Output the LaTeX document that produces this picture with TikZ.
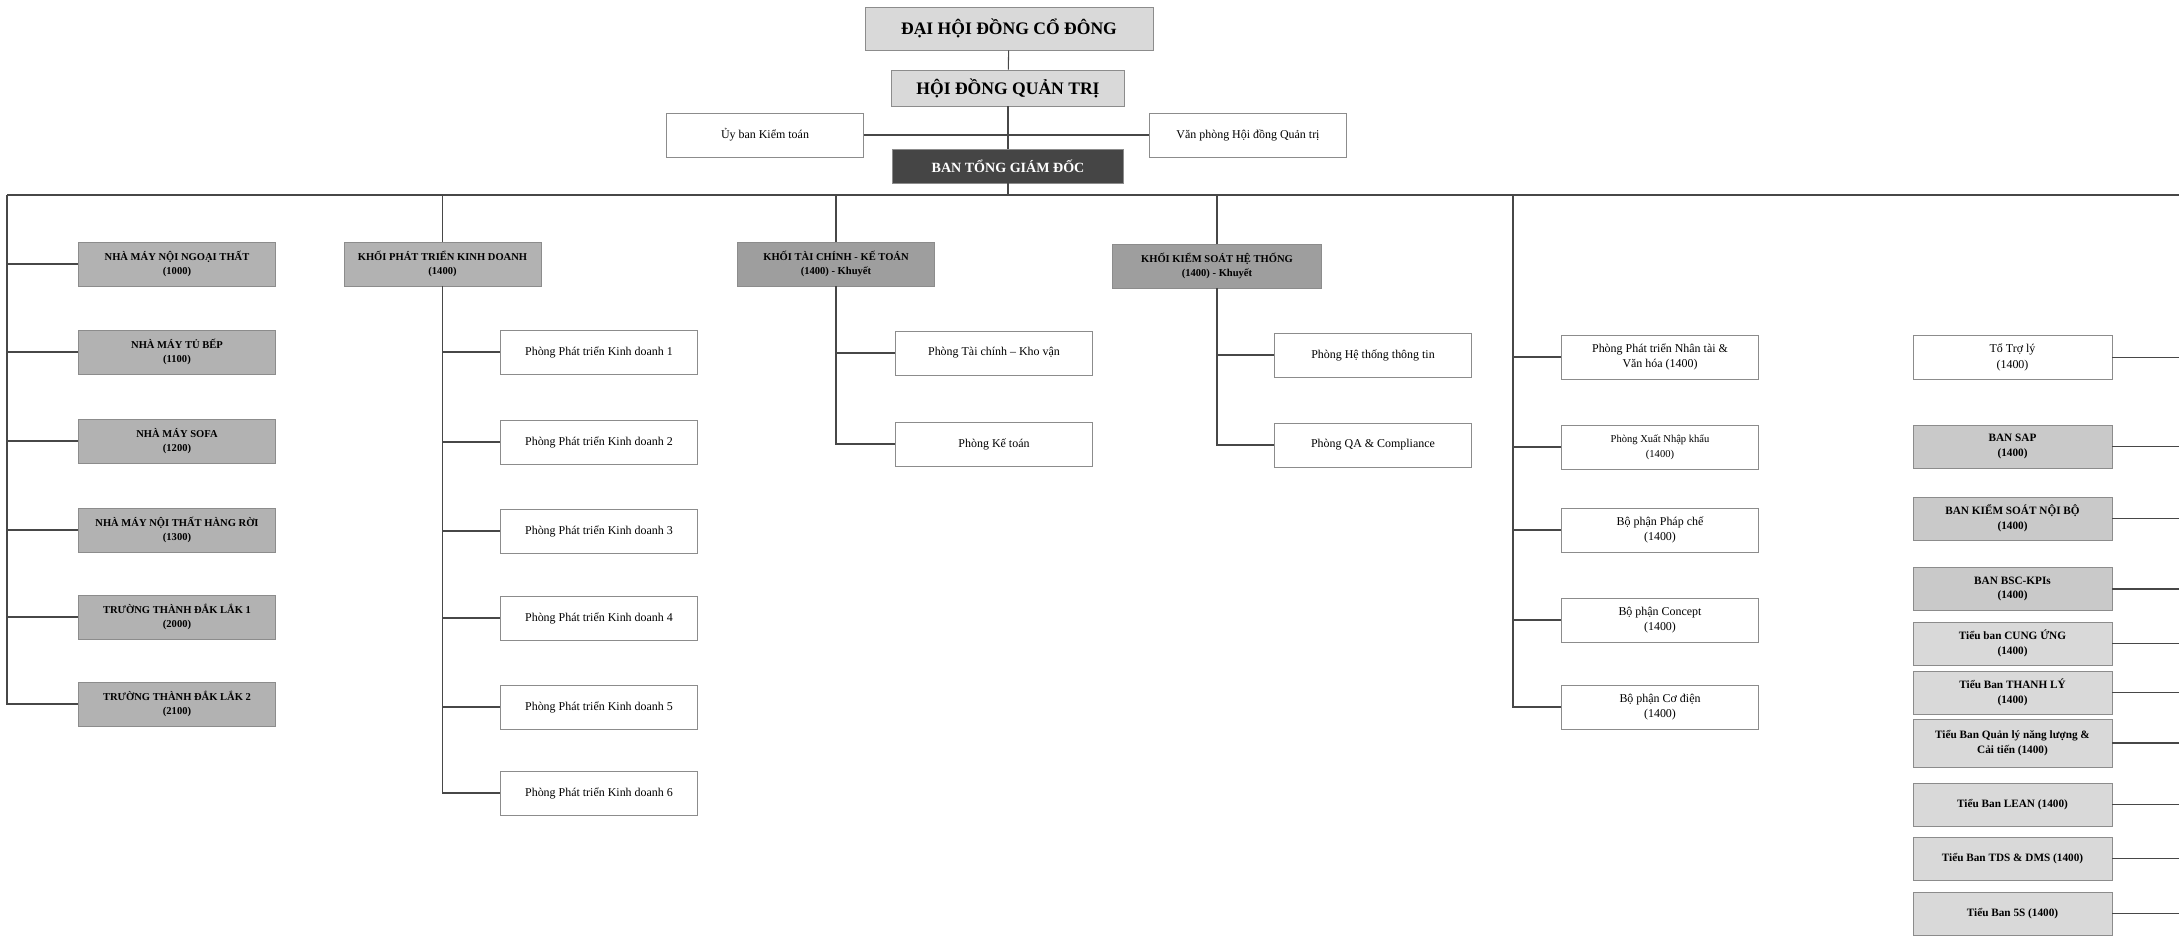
\documentclass[tikz,border=0pt]{standalone}
\usepackage{fontspec}
\setmainfont{Liberation Serif}
\usepackage{tikz}

\tikzset{
	box/.style={draw=black!45, line width=0.5pt, align=center, inner sep=1pt,
		minimum width=4.93cm, minimum height=1.1cm, font=\fontsize{8.5}{11}\selectfont},
	plainbox/.style={box, fill=white},
	factbox/.style={box, fill=black!30, font=\bfseries\fontsize{7.5}{10.5}\selectfont},
	khoibox/.style={box, fill=black!38, font=\bfseries\fontsize{7.5}{10.5}\selectfont},
	banbox/.style={box, fill=black!21, minimum width=4.98cm, minimum height=1.08cm, font=\bfseries\fontsize{8}{10.5}\selectfont},
	tieubox/.style={banbox, fill=black!15},
	topbox/.style={box, fill=black!15, font=\bfseries\fontsize{12.5}{15}\selectfont},
	tgdbox/.style={box, fill=black!73, text=white, minimum width=5.78cm, minimum height=0.85cm, font=\bfseries\fontsize{10}{12}\selectfont},
	link/.style={draw=black!72, line width=0.75pt},
}

\begin{document}
\begin{tikzpicture}[x=0.025cm, y=-0.025cm]
	\useasboundingbox (0,0) rectangle (2179,935);

	% dai hoi, hdqt, ban tong giam doc
	\node[topbox, minimum width=7.2cm, minimum height=1.075cm] (dhd) at (1009,28.5) {ĐẠI HỘI ĐỒNG CỔ ĐÔNG};
	\node[topbox, minimum width=5.83cm, minimum height=0.9cm] (hdqt) at (1008,88) {HỘI ĐỒNG QUẢN TRỊ};
	\node[plainbox] (ubkt) at (765,135) {Ủy ban Kiểm toán};
	\node[plainbox] (vphd) at (1248,135) {Văn phòng Hội đồng Quản trị};
	\node[tgdbox] (btgd) at (1008,166) {BAN TỔNG GIÁM ĐỐC};
	\coordinate (busL) at (7,195);
	\coordinate (busR) at (2179,195);
	\coordinate (bus5) at (1513,195);

	% nha may
	\node[factbox] (nm1) at (177,264) {NHÀ MÁY NỘI NGOẠI THẤT\\(1000)};
	\node[factbox] (nm2) at (177,352) {NHÀ MÁY TỦ BẾP\\(1100)};
	\node[factbox] (nm3) at (177,441) {NHÀ MÁY SOFA\\(1200)};
	\node[factbox] (nm4) at (177,530) {NHÀ MÁY NỘI THẤT HÀNG RỜI\\(1300)};
	\node[factbox] (nm5) at (177,617) {TRƯỜNG THÀNH ĐẮK LẮK 1\\(2000)};
	\node[factbox] (nm6) at (177,704) {TRƯỜNG THÀNH ĐẮK LẮK 2\\(2100)};

	% khoi phat trien kinh doanh
	\node[factbox] (kpt) at (442.5,264) {KHỐI PHÁT TRIỂN KINH DOANH\\(1400)};
	\node[plainbox] (pkd1) at (599,352) {Phòng Phát triển Kinh doanh 1};
	\node[plainbox] (pkd2) at (599,442) {Phòng Phát triển Kinh doanh 2};
	\node[plainbox] (pkd3) at (599,531) {Phòng Phát triển Kinh doanh 3};
	\node[plainbox] (pkd4) at (599,618) {Phòng Phát triển Kinh doanh 4};
	\node[plainbox] (pkd5) at (599,707) {Phòng Phát triển Kinh doanh 5};
	\node[plainbox] (pkd6) at (599,793) {Phòng Phát triển Kinh doanh 6};

	% khoi tai chinh, khoi kiem soat
	\node[khoibox] (ktc) at (836,264) {KHỐI TÀI CHÍNH - KẾ TOÁN\\(1400) - Khuyết};
	\node[plainbox] (ptc) at (994,353) {Phòng Tài chính – Kho vận};
	\node[plainbox] (pkt) at (994,444) {Phòng Kế toán};
	\node[khoibox, minimum width=5.23cm] (kks) at (1217,266) {KHỐI KIỂM SOÁT HỆ THỐNG\\(1400) - Khuyết};
	\node[plainbox] (phtt) at (1373,355) {Phòng Hệ thống thông tin};
	\node[plainbox] (pqa) at (1373,445) {Phòng QA \& Compliance};

	% phong ban truc thuoc
	\node[plainbox] (pnt) at (1660,357) {Phòng Phát triển Nhân tài \&\\Văn hóa (1400)};
	\node[plainbox, font=\fontsize{7.5}{10.5}\selectfont] (pxnk) at (1660,447) {Phòng Xuất Nhập khẩu\\(1400)};
	\node[plainbox] (bpc) at (1660,530) {Bộ phận Pháp chế\\(1400)};
	\node[plainbox] (bcc) at (1660,620) {Bộ phận Concept\\(1400)};
	\node[plainbox] (bcd) at (1660,707) {Bộ phận Cơ điện\\(1400)};

	% to, ban, tieu ban
	\node[plainbox, minimum width=4.98cm] (ttl) at (2012.5,357.5) {Tổ Trợ lý\\(1400)};
	\node[banbox] (bsap) at (2012.5,446.5) {BAN SAP\\(1400)};
	\node[banbox] (bksnb) at (2012.5,518.5) {BAN KIỂM SOÁT NỘI BỘ\\(1400)};
	\node[banbox] (bbsc) at (2012.5,589) {BAN BSC-KPIs\\(1400)};
	\node[tieubox] (tcu) at (2012.5,643.5) {Tiểu ban CUNG ỨNG\\(1400)};
	\node[tieubox] (ttly) at (2012.5,692.5) {Tiểu Ban THANH LÝ\\(1400)};
	\node[tieubox, minimum height=1.2cm] (tqnl) at (2012.5,743) {Tiểu Ban Quản lý năng lượng \&\\Cải tiến (1400)};
	\node[tieubox] (tlean) at (2012.5,804.5) {Tiểu Ban LEAN (1400)};
	\node[tieubox] (ttds) at (2012.5,858.5) {Tiểu Ban TDS \& DMS (1400)};
	\node[tieubox] (t5s) at (2012.5,913.5) {Tiểu Ban 5S (1400)};

	\draw[link] (dhd) -- (hdqt);
	\draw[link] (hdqt) -- (btgd);
	\draw[link] (ubkt) -- (vphd);
	\draw[link] (btgd) -- (btgd |- busL);
	\draw[link] (busL) -- (busR);
	\foreach \n in {nm1,nm2,nm3,nm4,nm5,nm6}
		\draw[link] (busL) |- (\n);
	\foreach \k in {kpt,ktc,kks}
		\draw[link] (\k |- busL) -- (\k);
	\foreach \n in {pkd1,pkd2,pkd3,pkd4,pkd5,pkd6}
		\draw[link] (kpt.south) |- (\n);
	\foreach \n in {ptc,pkt}
		\draw[link] (ktc.south) |- (\n);
	\foreach \n in {phtt,pqa}
		\draw[link] (kks.south) |- (\n);
	\foreach \n in {pnt,pxnk,bpc,bcc,bcd}
		\draw[link] (bus5) |- (\n);
	\foreach \n in {ttl,bsap,bksnb,bbsc,tcu,ttly,tqnl,tlean,ttds,t5s}
		\draw[link] (\n) -- (\n -| busR);
\end{tikzpicture}
\end{document}
